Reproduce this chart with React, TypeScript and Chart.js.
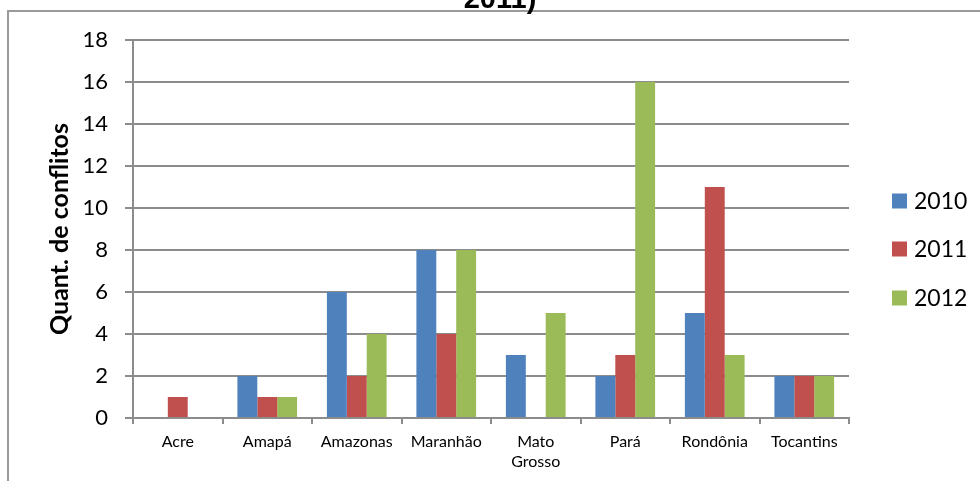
import React, { useEffect, useRef } from "react";
import { Chart, registerables } from "chart.js";

Chart.register(...registerables);

const categories: (string | string[])[] = [
  "Acre",
  "Amapá",
  "Amazonas",
  "Maranhão",
  ["Mato", "Grosso"],
  "Pará",
  "Rondônia",
  "Tocantins",
];

const values2010 = [0, 2, 6, 8, 3, 2, 5, 2];
const values2011 = [1, 1, 2, 4, 0, 3, 11, 2];
const values2012 = [0, 1, 4, 8, 5, 16, 3, 2];

const seriesLabels = ["2010", "2011", "2012"];
const seriesColors = ["#4F81BD", "#C0504D", "#9BBB59"];

const yTicks = { min: 0, max: 18, step: 2 };

const titleTail = "2011)";
const yAxisTitle = "Quant. de conflitos";

const GRID = "#8c8c8c";

const decorPlugin = {
  id: "decor",
  beforeDraw(chart: any) {
    const { ctx, width, height } = chart;
    ctx.save();
    ctx.fillStyle = "#ffffff";
    ctx.fillRect(0, 0, width, height);
    // outer frame (top and left edges)
    ctx.strokeStyle = "#9a9a9a";
    ctx.lineWidth = 2;
    ctx.beginPath();
    ctx.moveTo(width, 11);
    ctx.lineTo(8, 11);
    ctx.lineTo(8, height);
    ctx.stroke();
    ctx.restore();
  },
  afterDraw(chart: any) {
    const { ctx, chartArea } = chart;
    ctx.save();
    // title tail
    ctx.fillStyle = "#000";
    ctx.font = "bold 29px 'Liberation Sans', Arial, sans-serif";
    ctx.textAlign = "center";
    ctx.textBaseline = "alphabetic";
    ctx.fillText(titleTail, 500, 8);

    // y axis title
    ctx.save();
    ctx.translate(60, (chartArea.top + chartArea.bottom) / 2);
    ctx.rotate(-Math.PI / 2);
    ctx.font = "bold 25px Lato, sans-serif";
    ctx.textAlign = "center";
    ctx.textBaseline = "middle";
    ctx.fillText(yAxisTitle, 0, 0);
    ctx.restore();

    // legend
    const legendY = [201, 249, 298];
    ctx.font = "23px Lato, sans-serif";
    ctx.textAlign = "left";
    ctx.textBaseline = "middle";
    seriesLabels.forEach((lab, i) => {
      ctx.fillStyle = seriesColors[i];
      ctx.fillRect(892, legendY[i] - 7.5, 15, 15);
      ctx.fillStyle = "#000";
      ctx.fillText(lab, 914, legendY[i] + 1);
    });
    ctx.restore();
  },
};

export default function App() {
  const ref = useRef<HTMLCanvasElement | null>(null);

  useEffect(() => {
    document.body.style.margin = "0";
    const canvas = ref.current;
    if (!canvas) return;
    const data = [values2010, values2011, values2012];
    const chart = new Chart(canvas, {
      type: "bar",
      data: {
        labels: categories,
        datasets: seriesLabels.map((label, i) => ({
          label,
          data: data[i],
          backgroundColor: seriesColors[i],
          borderWidth: 0,
          categoryPercentage: 0.667,
          barPercentage: 1,
        })),
      },
      options: {
        animation: false,
        responsive: false,
        maintainAspectRatio: false,
        devicePixelRatio: 1,
        layout: { padding: { top: 40, right: 131, left: 0, bottom: 0 } },
        plugins: {
          legend: { display: false },
          title: { display: false },
          tooltip: { enabled: false },
        },
        scales: {
          x: {
            offset: true,
            grid: {
              offset: true,
              drawOnChartArea: false,
              drawTicks: true,
              tickLength: 6,
              color: GRID,
              lineWidth: 2,
            },
            border: { display: true, color: GRID, width: 2 },
            ticks: {
              color: "#000",
              font: { family: "Lato, sans-serif", size: 16, lineHeight: 1.3 },
              padding: 7,
              maxRotation: 0,
              autoSkip: false,
            },
            afterFit(scale: any) {
              scale.height = 63;
            },
          },
          y: {
            min: yTicks.min,
            max: yTicks.max,
            grid: {
              color: GRID,
              lineWidth: 2,
              drawTicks: true,
              tickLength: 8,
            },
            border: { display: true, color: GRID, width: 2 },
            ticks: {
              stepSize: yTicks.step,
              color: "#000",
              font: { family: "Lato, sans-serif", size: 22 },
              padding: 17,
            },
            afterFit(scale: any) {
              scale.width = 133;
            },
          },
        },
      },
      plugins: [decorPlugin],
    });
    return () => chart.destroy();
  }, []);

  return <canvas ref={ref} width={980} height={481} style={{ display: "block" }} />;
}
